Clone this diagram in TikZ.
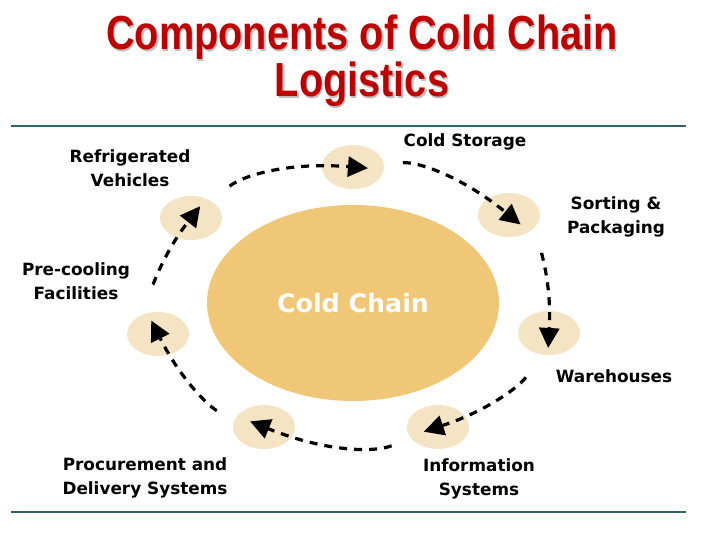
\documentclass[tikz,border=0pt]{standalone}
\usepackage{fontspec}
\setmainfont{DejaVu Sans}
\newfontfamily\titlefont[FakeStretch=0.83]{Liberation Sans}
\usetikzlibrary{arrows.meta,shapes.geometric}

\definecolor{chaincore}{HTML}{F0C777}
\definecolor{stagefill}{HTML}{F5E4C3}
\definecolor{titlered}{HTML}{C00000}
\definecolor{rulecol}{HTML}{30616F}

\tikzset{
  title/.style={anchor=base, text=titlered, font=\titlefont\bfseries\fontsize{34}{40}\selectfont},
  title shadow/.style={title, text=black!25},
  rule/.style={draw=rulecol, line width=1.1pt},
  core/.style={ellipse, fill=chaincore, minimum width=73mm, minimum height=49mm,
    text=white, font=\bfseries\fontsize{18}{22}\selectfont},
  stage/.style={ellipse, fill=stagefill, minimum width=15.5mm, minimum height=11mm, inner sep=0pt},
  stage label/.style={align=center, font=\bfseries\fontsize{12}{17}\selectfont},
  flow/.style={line width=0.8mm, dash pattern=on 2mm off 1.75mm,
    -{Triangle[length=5mm,width=5mm]}, shorten <=12.5mm, shorten >=-3.75mm},
}

\begin{document}
\begin{tikzpicture}[x=0.25mm, y=0.25mm]
\useasboundingbox (0,0) rectangle (720,540);

% title with its shadow
\foreach \l/\y [count=\i] in {Components of Cold Chain/490, Logistics/443} {
  \node [title shadow] (title-shadow-\i) at (363.3,\y-1.3) {\l};
  \node [title] (title-\i) at (362,\y) {\l};
}

% rules above and below
\draw [rule] (11,414) -- (686,414);
\draw [rule] (11,28) -- (686,28);

% central ellipse
\node [core] (core) at (353,237) {Cold Chain};

% define stages
\foreach \n/\x/\y in {refr/191/322, cold/353/373, sort/509/325, ware/549/207,
                      info/438/113, proc/264/113, pre/158/206}
  \node [stage] (\n) at (\x,\y) {};

% stage labels
\foreach \n/\x/\y/\t in {refr/130/372/{Refrigerated\\Vehicles},
                         cold/465/398/{Cold Storage},
                         sort/616/323/{Sorting \&\\Packaging},
                         ware/614/164/{Warehouses},
                         info/479/61/{Information\\Systems},
                         proc/145/62/{Procurement and\\Delivery Systems},
                         pre/76/259/{Pre-cooling\\Facilities}}
  \node [stage label] (\n-label) at (\x,\y) {\t};

% connect stages clockwise
\foreach \a/\b in {refr/cold, cold/sort, sort/ware, ware/info,
                   info/proc, proc/pre, pre/refr}
  \draw [flow] (\a.center) to [bend left=22] (\b.center);

\end{tikzpicture}
\end{document}
